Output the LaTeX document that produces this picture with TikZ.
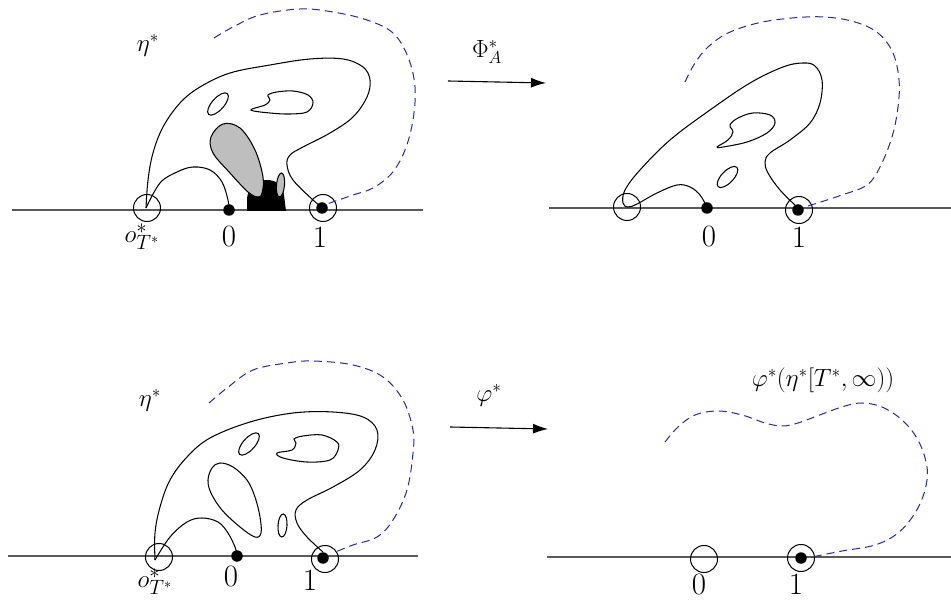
\documentclass[tikz,border=0pt]{standalone}
\usetikzlibrary{arrows.meta}
\definecolor{dblue}{RGB}{40,40,170}
\definecolor{lgrey}{RGB}{190,190,190}
\begin{document}
\begin{tikzpicture}[x=1pt,y=-1pt,
 curve/.style={line width=1.05pt, black},
 trace/.style={dblue, line width=1pt, dash pattern=on 8pt off 5pt},
 axis/.style={black!65, line width=1.3pt},
 ring/.style={circle, draw, line width=1pt, minimum size=27pt, inner sep=0pt},
 dot/.style={circle, fill, minimum size=11.5pt, inner sep=0pt},
 numlab/.style={font=\fontsize{31}{32}\selectfont, inner sep=0pt},
 olab/.style={font=\fontsize{28}{29}\selectfont, inner sep=0pt},
 maplab/.style={font=\fontsize{24}{25}\selectfont, inner sep=0pt},
 maparrow/.style={line width=1.1pt, -{Latex[length=15pt,width=10pt]}}
]
\useasboundingbox (0,0) rectangle (951,601);

% ================= top left =================
\coordinate (tlL) at (12,210); \coordinate (tlR) at (423,210);
\draw[axis] (tlL) -- (tlR);
\node[ring] (tlo) at (147,208) {};
\node[dot] (tl0) at (229,210) {};
\node[ring] (tl1) at (323,208) {};
\node[dot] (tl1d) at (322,208) {};
\node[olab] (tlol) at (142,237) {$o^*_{T^*}$};
\node[numlab] (tl0l) at (229,237) {0};
\node[numlab] (tl1l) at (320,237) {1};
\node[maplab] (tleta) at (148,45) {$\eta^*$};
% black blob
\fill (247,211) -- (247,198) .. controls (248,188) and (257,180) .. (267,180)
  .. controls (277,180) and (283,186) .. (284,195) -- (286,211) -- cycle;
% grey egg
\draw[curve, fill=lgrey] plot[smooth cycle, tension=0.6] coordinates {(223,124) (211,137) (213,153) (230,173) (248,192) (258,197) (262,193) (263,177) (255,150) (240,128)};
\draw[curve, fill=lgrey, rotate around={-5:(280.5,185)}] (280.5,185) ellipse [x radius=4, y radius=12];
% main loop
\draw[curve] plot[smooth, tension=0.6] coordinates {(146,208) (148,180) (153,153) (163,127) (180,103) (200,87) (230,73) (270,65) (310,59) (343,59) (363,67) (370,80) (367,97) (353,117) (330,133) (303,147) (290,155) (287,165) (293,180) (313,200) (322,207)};
\draw[curve] plot[smooth, tension=0.6] coordinates {(146,208) (160,183) (177,172) (193,167) (210,170) (222,182) (228,200) (229,209)};
\draw[curve, rotate around={48:(218,104)}] (218,104) ellipse [x radius=14, y radius=6];
\draw[curve] plot[smooth cycle, tension=0.6] coordinates {(251,110) (265,105) (270,100) (268,95) (277,92) (293,91) (308,95) (313,103) (307,112) (290,114) (270,113)};
\draw[trace] plot[smooth, tension=0.6] coordinates {(214,38) (233,27) (260,15) (300,9) (333,12) (367,20) (393,33) (408,57) (415,87) (413,120) (405,150) (392,173) (373,188) (353,195) (327,204)};

% arrow top
\coordinate (a1s) at (448,81); \coordinate (a1e) at (546,83);
\draw[maparrow] (a1s) -- (a1e);
\node[maplab] (phiA) at (487,52) {$\Phi^*_A$};

% ================= top right =================
\coordinate (trL) at (549,208); \coordinate (trR) at (951,208);
\draw[axis] (trL) -- (trR);
\node[ring] (tro) at (627,207) {};
\node[dot] (tr0) at (707,208) {};
\node[ring] (tr1) at (799,210) {};
\node[dot] (tr1d) at (798,210) {};
\node[numlab] (tr0l) at (709,237) {0};
\node[numlab] (tr1l) at (799,237) {1};
\draw[curve] plot[smooth, tension=0.6] coordinates {(797,207) (780,190) (768,173) (765,162) (770,153) (790,140) (810,123) (820,103) (822,80) (815,66) (803,63) (783,67) (750,83) (710,110) (670,140) (640,170) (625,190) (623,203) (628,207) (637,204) (657,193) (677,185) (690,187) (700,195) (707,207)};
\draw[curve, rotate around={46:(727.5,177)}] (727.5,177) ellipse [x radius=13.5, y radius=6];
\draw[curve] plot[smooth cycle, tension=0.6] coordinates {(717,147) (728,140) (733,132) (730,125) (738,118) (753,113) (770,115) (775,123) (767,133) (747,142) (723,147)};
\draw[trace] plot[smooth, tension=0.6] coordinates {(685,82) (695,63) (708,47) (728,33) (758,23) (792,18) (825,17) (855,22) (878,33) (893,53) (899,80) (898,107) (892,137) (880,167) (867,185) (842,195) (808,206)};

% ================= bottom left =================
\coordinate (blL) at (8,556); \coordinate (blR) at (418,556);
\draw[axis] (blL) -- (blR);
\node[ring] (blo) at (159,557) {};
\node[dot] (bl0) at (237,556) {};
\node[ring] (bl1) at (325,559) {};
\node[dot] (bl1d) at (323,558) {};
\node[olab] (blol) at (155,582) {$o^*_{T^*}$};
\node[numlab] (bl0l) at (231,577) {0};
\node[numlab] (bl1l) at (310,580) {1};
\node[maplab] (bleta) at (150,400) {$\eta^*$};
\draw[curve] plot[smooth, tension=0.6] coordinates {(155,560) (155,533) (160,507) (170,480) (187,457) (210,438) (250,422) (293,413) (333,412) (363,417) (377,430) (375,450) (360,470) (333,487) (307,500) (296,510) (297,523) (307,537) (323,552)};
\draw[curve] plot[smooth, tension=0.6] coordinates {(155,560) (170,537) (187,522) (202,518) (218,522) (228,533) (235,547) (237,555)};
\draw[curve, rotate around={48:(249,444)}] (249,444) ellipse [x radius=14, y radius=6];
\draw[curve] plot[smooth cycle, tension=0.6] coordinates {(277,453) (292,450) (296,443) (294,439) (303,436) (322,435) (337,442) (338,450) (330,460) (307,462) (283,458)};
\draw[curve] plot[smooth cycle, tension=0.6] coordinates {(208,480) (212,468) (220,463) (233,467) (247,480) (255,497) (260,517) (261,533) (255,537) (240,527) (222,510) (211,493)};
\draw[curve, rotate around={-4:(282.5,525.5)}] (282.5,525.5) ellipse [x radius=4.5, y radius=11.5];
\draw[trace] plot[smooth, tension=0.6] coordinates {(209,403) (227,388) (253,370) (287,363) (313,361) (353,365) (383,377) (403,400) (413,430) (413,453) (407,490) (393,520) (377,537) (353,545) (333,553)};

% arrow bottom
\coordinate (a2s) at (450,427); \coordinate (a2e) at (548,429);
\draw[maparrow] (a2s) -- (a2e);
\node[maplab] (phis) at (489,395) {$\varphi^*$};

% ================= bottom right =================
\coordinate (brL) at (547,557); \coordinate (brR) at (951,557);
\draw[axis] (brL) -- (brR);
\node[ring] (br0) at (704,559) {};
\node[ring] (br1) at (801,558) {};
\node[dot] (br1d) at (801,558) {};
\node[numlab] (br0l) at (699,585) {0};
\node[numlab] (br1l) at (796,584) {1};
\node[maplab] (brlab) at (823,380) {$\varphi^*(\eta^*[T^*,\infty))$};
\draw[trace] plot[smooth, tension=0.6] coordinates {(665,442) (678,427) (695,415) (718,411) (742,415) (765,423) (782,426) (798,423) (825,413) (845,406) (862,403) (882,407) (902,420) (918,440) (927,467) (925,490) (915,513) (898,533) (875,545) (842,551) (812,557)};
\end{tikzpicture}
\end{document}
